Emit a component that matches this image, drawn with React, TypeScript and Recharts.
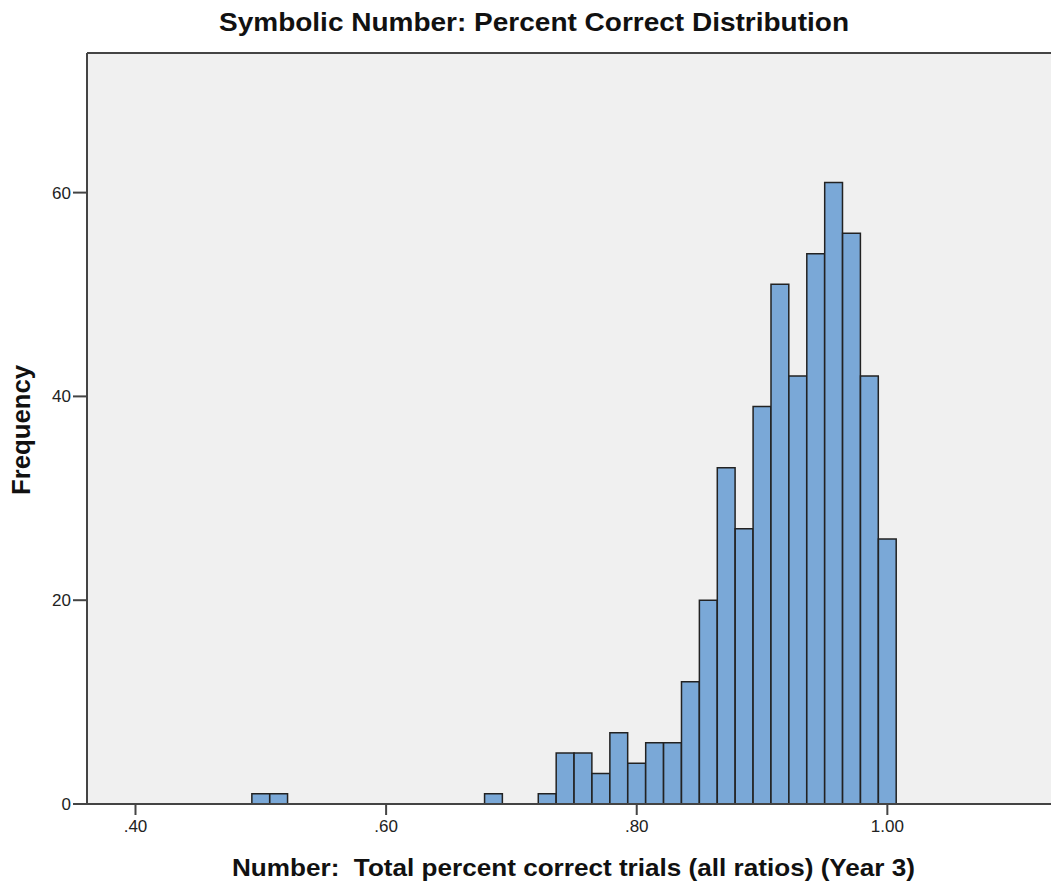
import { BarChart, Bar, XAxis, YAxis, CartesianGrid, ReferenceLine } from "recharts";

// bin centres (bin width 1/70) and counts
const binCenters = [
  0.5, 0.51429, 0.68571, 0.72857, 0.74286, 0.75714, 0.77143, 0.78571, 0.8,
  0.81429, 0.82857, 0.84286, 0.85714, 0.87143, 0.88571, 0.9, 0.91429, 0.92857,
  0.94286, 0.95714, 0.97143, 0.98571, 1.0,
];
const frequencies = [
  1, 1, 1, 1, 5, 5, 3, 7, 4, 6, 6, 12, 20, 33, 27, 39, 51, 42, 54, 61, 56, 42, 26,
];
const xTicks = [0.4, 0.6, 0.8, 1.0];
const yTicks = [0, 20, 40, 60];

const title = "Symbolic Number: Percent Correct Distribution";
const xLabel = "Number:  Total percent correct trials (all ratios) (Year 3)";
const yLabel = "Frequency";

const X_DOMAIN: [number, number] = [0.3613, 1.1306];
const Y_MAX = 73.7;
const FONT = "'Liberation Sans', Arial, sans-serif";
const AXIS = "#444";

const data = binCenters.map((c, i) => ({ center: c, count: frequencies[i] }));

const fmtX = (v: number) => (v >= 1 ? v.toFixed(2) : v.toFixed(2).replace(/^0/, ""));

export default function App() {
  return (
    <div
      style={{
        position: "absolute",
        left: 0,
        top: 0,
        width: 1051,
        height: 885,
        background: "#fff",
        fontFamily: FONT,
      }}
    >
      <BarChart
        width={1051}
        height={885}
        data={data}
        margin={{ top: 53, right: 0, left: 0, bottom: 0 }}
      >
        <CartesianGrid fill="#f0f0f0" horizontal={false} vertical={false} />
        <XAxis
          type="number"
          dataKey="center"
          domain={X_DOMAIN}
          allowDataOverflow
          ticks={xTicks}
          tickFormatter={fmtX}
          height={81}
          tickSize={11}
          tickMargin={5}
          axisLine={{ stroke: AXIS, strokeWidth: 2 }}
          tickLine={{ stroke: AXIS, strokeWidth: 2 }}
          tick={{ fill: "#222", fontSize: 17, fontFamily: FONT }}
        />
        <YAxis
          type="number"
          domain={[0, Y_MAX]}
          allowDataOverflow
          ticks={yTicks}
          width={87}
          tickSize={14}
          tickMargin={2}
          axisLine={{ stroke: AXIS, strokeWidth: 2 }}
          tickLine={{ stroke: AXIS, strokeWidth: 2 }}
          tick={{ fill: "#222", fontSize: 17, fontFamily: FONT }}
        />
        <ReferenceLine y={Y_MAX} stroke={AXIS} strokeWidth={2} ifOverflow="visible" />
        <Bar
          dataKey="count"
          fill="#7aa8d7"
          stroke="#222"
          strokeWidth={1.5}
          barSize={17.8}
          isAnimationActive={false}
        />
      </BarChart>

      {/* titles */}
      <svg
        width={1051}
        height={885}
        style={{ position: "absolute", left: 0, top: 0, pointerEvents: "none" }}
      >
        <text
          x={534}
          y={31}
          textAnchor="middle"
          fontSize={26}
          fontWeight="bold"
          fontFamily={FONT}
          fill="#111"
          textLength={630}
          lengthAdjust="spacingAndGlyphs"
        >
          {title}
        </text>
        <text
          x={573.5}
          y={876}
          textAnchor="middle"
          fontSize={24}
          fontWeight="bold"
          fontFamily={FONT}
          fill="#111"
          textLength={683}
          lengthAdjust="spacingAndGlyphs"
          style={{ whiteSpace: "pre" }}
        >
          {xLabel}
        </text>
        <text
          x={30}
          y={430}
          transform="rotate(-90 30 430)"
          textAnchor="middle"
          fontSize={25}
          fontWeight="bold"
          fontFamily={FONT}
          fill="#111"
          textLength={130}
          lengthAdjust="spacingAndGlyphs"
        >
          {yLabel}
        </text>
      </svg>
    </div>
  );
}
